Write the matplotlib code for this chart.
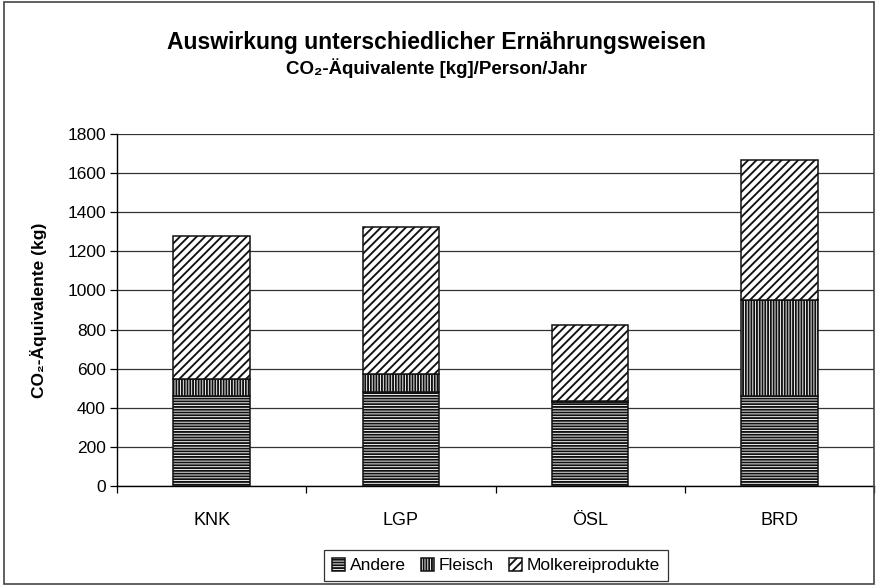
import matplotlib
matplotlib.use("Agg")
import matplotlib.pyplot as plt
from matplotlib.patches import Rectangle
import numpy as np

categories = ["KNK", "LGP", "ÖSL", "BRD"]
andere = [460, 480, 428, 458]
fleisch = [86, 93, 6, 493]
molkerei = [734, 751, 388, 717]
series_names = ["Andere", "Fleisch", "Molkereiprodukte"]
yticks = [0, 200, 400, 600, 800, 1000, 1200, 1400, 1600, 1800]

plt.rcParams["font.family"] = ["Liberation Sans", "DejaVu Sans"]
plt.rcParams["hatch.linewidth"] = 1.35

fig = plt.figure(figsize=(8.86, 5.87), dpi=100)
ax = fig.add_axes([117 / 886, 1 - 486 / 587, (874 - 117) / 886, (486 - 134) / 587])

x = np.arange(len(categories))
w = 0.405
bottom1 = np.array(andere)
bottom2 = bottom1 + np.array(fleisch)

common = dict(width=w, color="white", edgecolor="#111111", linewidth=1.1, zorder=3)
ax.bar(x, andere, hatch="------", label=series_names[0], **common)
ax.bar(x, fleisch, bottom=bottom1, hatch="||||||", label=series_names[1], **common)
ax.bar(x, molkerei, bottom=bottom2, hatch="////", label=series_names[2], **common)

ax.set_xlim(-0.5, len(categories) - 0.5)
ax.set_ylim(0, 1800)
ax.set_yticks(yticks)
ax.set_yticklabels([str(v) for v in yticks], fontsize=12.5)
ax.yaxis.grid(True, color="#333333", linewidth=0.9, zorder=0)
ax.set_axisbelow(True)

# category ticks at boundaries, labels centered
ax.set_xticks(np.arange(-0.5, len(categories)), minor=False)
ax.set_xticklabels([""] * (len(categories) + 1))
ax.set_xticks(x, minor=True)
ax.set_xticklabels(categories, minor=True, fontsize=13)
ax.tick_params(axis="x", which="minor", length=0, pad=19)
ax.tick_params(axis="x", which="major", length=5, width=0.9, direction="out")
ax.tick_params(axis="y", length=5, width=0.9, direction="out", pad=3)

for s in ["top", "right"]:
    ax.spines[s].set_visible(False)
ax.spines["left"].set_linewidth(1.0)
ax.spines["bottom"].set_linewidth(1.0)

ax.set_ylabel("CO₂-Äquivalente (kg)", fontsize=12.5, fontweight="bold")
ax.yaxis.set_label_coords(-0.092, 0.5)

fig.text(0.493, 1 - 43 / 587, "Auswirkung unterschiedlicher Ernährungsweisen",
         ha="center", va="center", fontsize=16.5, fontweight="bold")
fig.text(0.493, 1 - 68 / 587, "CO₂-Äquivalente [kg]/Person/Jahr",
         ha="center", va="center", fontsize=13.5, fontweight="bold")

leg = ax.legend(loc="center", bbox_to_anchor=(496 / 886, 1 - 565.5 / 587),
                bbox_transform=fig.transFigure, ncol=3, fontsize=12.5,
                frameon=True, fancybox=False, edgecolor="black",
                handlelength=0.75, handleheight=0.75, handletextpad=0.25,
                columnspacing=0.9, borderpad=0.45)
leg.get_frame().set_linewidth(0.9)

# outer chart frame
fig.patches.append(Rectangle((4 / 886, 3 / 587), (874 - 4) / 886, (585 - 3) / 587,
                             transform=fig.transFigure, fill=False,
                             edgecolor="#444444", linewidth=1.2))

fig.savefig("out.png", dpi=100)
